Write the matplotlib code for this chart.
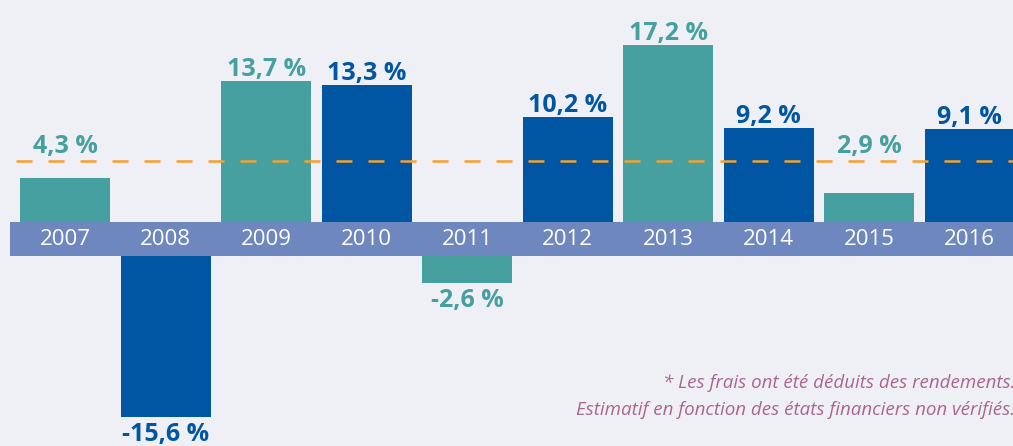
import matplotlib
matplotlib.use('Agg')
import matplotlib.pyplot as plt

years = ['2007', '2008', '2009', '2010', '2011', '2012', '2013', '2014', '2015', '2016']
returns = [4.3, -15.6, 13.7, 13.3, -2.6, 10.2, 17.2, 9.2, 2.9, 9.1]
labels = ['4,3 %', '-15,6 %', '13,7 %', '13,3 %', '-2,6 %', '10,2 %', '17,2 %', '9,2 %', '2,9 %', '9,1 %']
average = 6.0
notes = ['* Les frais ont été déduits des rendements.',
         'Estimatif en fonction des états financiers non vérifiés.']

teal = '#45a09f'
blue = '#0056a2'
band_col = '#6f87bf'
bg = '#eff0f6'
orange = '#f7a02e'
note_col = '#a8668f'

band_h = 3.25  # height of the year strip, in % units
colors = [teal if i % 2 == 0 else blue for i in range(len(years))]

fig = plt.figure(figsize=(10.13, 4.46), dpi=100)
fig.patch.set_facecolor(bg)
ax = fig.add_axes([0, 0, 1, 1])
ax.set_facecolor(bg)
ax.set_xlim(-0.647, 9.43)
ax.set_ylim(-21.7, 21.6)
ax.axis('off')

x = list(range(len(years)))
# positive bars sit on top of the strip, negative hang below it
bottoms = [0 if v >= 0 else -band_h for v in returns]
ax.bar(x, returns, width=0.895, bottom=bottoms, color=colors, zorder=2)

# year strip
ax.bar(-0.548, band_h, width=10.5, bottom=-band_h, align='edge', color=band_col, zorder=3)
for i, yr in enumerate(years):
    ax.text(i, -band_h / 2, yr, ha='center', va='center', color='white',
            fontsize=16, family='Open Sans', zorder=4)

ax.axhline(average, xmin=16 / 1013, color=orange, lw=1.8, dashes=(6.4, 6.4), zorder=5)

for i, v in enumerate(returns):
    if v >= 0:
        ax.text(i, max(v, 6.25) + 0.5, labels[i], ha='center', va='baseline',
                color=colors[i], fontsize=18, fontweight='bold', family='Open Sans', zorder=6)
    else:
        ax.text(i, v - band_h - 0.5, labels[i], ha='center', va='top',
                color=colors[i], fontsize=18, fontweight='bold', family='Open Sans', zorder=6)

fig.text(1.002, 1 - 388 / 446, notes[0], ha='right', va='baseline', color=note_col,
         fontsize=13.5, style='italic', family='Open Sans')
fig.text(1.002, 1 - 415 / 446, notes[1], ha='right', va='baseline', color=note_col,
         fontsize=13.5, style='italic', family='Open Sans')

fig.savefig('out.png', dpi=100, facecolor=bg)
